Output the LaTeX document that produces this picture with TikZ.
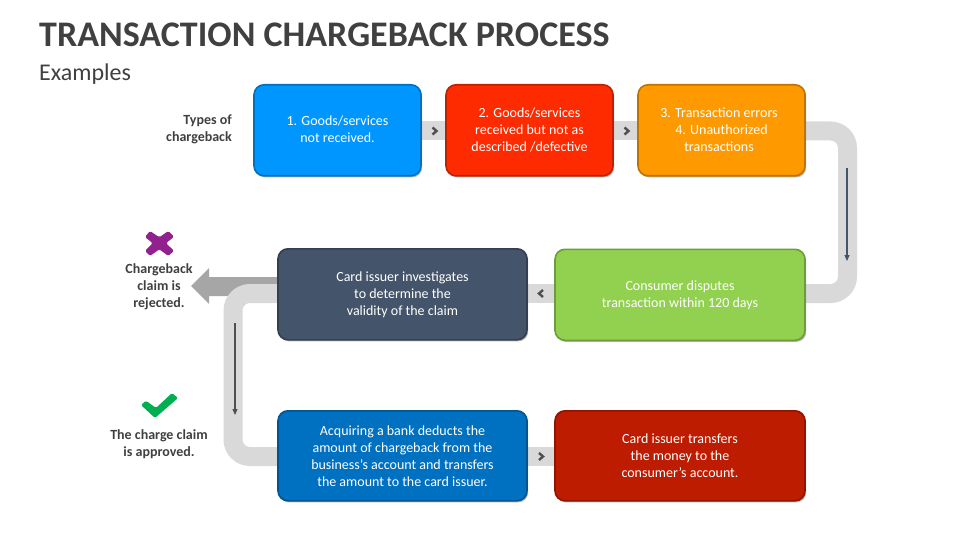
\documentclass[tikz,border=0pt]{standalone}
\usepackage{fontspec}
\setmainfont{Carlito}
\usetikzlibrary{shadows,arrows.meta}
\definecolor{txt}{HTML}{404040}
\definecolor{band}{HTML}{D9D9D9}
\tikzset{
  x=1pt,y=-1pt,
  proc/.style={draw=#1!75!black,fill=#1,line width=1.6pt,rounded corners=10pt,text=white,align=center,
    anchor=north west,inner sep=0pt,font=\fontsize{14}{17}\selectfont,
    drop shadow={shadow xshift=1.2pt,shadow yshift=-1.6pt,fill=black,opacity=.3}},
  lab/.style={text=txt,align=center,font=\fontsize{14}{17}\selectfont\bfseries,inner sep=0pt},
  bandline/.style={draw=band,line width=19pt,rounded corners=17pt},
  flow/.style={draw=#1,line width=1.2pt,-{Triangle[length=6pt,width=5pt]}},
  chev/.style={draw=#1,line width=2.4pt,line join=miter},
  icon/.style={fill=#1,rounded corners=1.5pt},
}
\definecolor{cA}{HTML}{0096FF}
\definecolor{cB}{HTML}{FF2B00}
\definecolor{cC}{HTML}{FF9900}
\definecolor{cD}{HTML}{92D050}
\definecolor{cE}{HTML}{44546A}
\definecolor{cF}{HTML}{0070C0}
\definecolor{cG}{HTML}{BD1C00}
\definecolor{gA}{HTML}{A6A6A6}
\definecolor{gC}{HTML}{4F4F4F}
\definecolor{cX}{HTML}{92208F}
\definecolor{cV}{HTML}{00B050}
\begin{document}
\begin{tikzpicture}
\useasboundingbox (0,0) rectangle (960,540);
\fill[white] (0,0) rectangle (960,540);
% coordinates
\coordinate (r1) at (847.5,131);
\coordinate (r2) at (847.5,293.5);
\coordinate (l1) at (233,293.5);
\coordinate (l2) at (233,456.5);
\coordinate (cs) at (795,131);
\coordinate (ds) at (795,293.5);
\coordinate (es) at (290,293.5);
\coordinate (fs) at (290,456.5);
\coordinate (des) at (600,293.5);
\coordinate (ees) at (500,293.5);
\coordinate (fgs) at (500,456.5);
\coordinate (gfs) at (600,456.5);
\coordinate (abs) at (400,131);
\coordinate (bas) at (480,131);
\coordinate (bcs) at (600,131);
\coordinate (cbs) at (650,131);
% grey bands
\draw[bandline] (abs) -- (bas);
\draw[bandline] (bcs) -- (cbs);
\draw[bandline] (cs) -- (r1) -- (r2) -- (ds);
\draw[bandline] (des) -- (ees);
\draw[bandline] (fgs) -- (gfs);
% rejected arrow
\fill[gA] (191,286) -- (209,268) -- (209,277) -- (290,277) -- (290,296) -- (209,296) -- (209,304) -- cycle;
\draw[bandline] (es) -- (l1) -- (l2) -- (fs);
% flow arrows
\coordinate (ra) at (847,168); \coordinate (rb) at (847,261);
\coordinate (la) at (235,323); \coordinate (lb) at (235,415);
\draw[flow=cE] (ra) -- (rb);
\draw[flow=gC] (la) -- (lb);
% boxes
\node[proc=cA,minimum width=167pt,minimum height=91pt] (a) at (253.2,84) {1. Goods/services\\not received.\vphantom{p}};
\node[proc=cB,minimum width=167pt,minimum height=91pt] (b) at (445.2,84) {2. Goods/services\\received but not as\\described /defective};
\node[proc=cC,minimum width=167pt,minimum height=91pt] (c) at (637.2,84) {3. Transaction errors\hspace*{5pt}\\4. Unauthorized\hspace*{5pt}\\transactions\hspace*{5pt}\vphantom{p}};
\node[proc=cD,minimum width=250pt,minimum height=91pt] (d) at (554.2,248.5) {Consumer disputes\\transaction within 120 days};
\node[proc=cE,minimum width=249pt,minimum height=91pt] (e) at (277.2,248) {Card issuer investigates\\to determine the\\validity of the claim};
\node[proc=cF,minimum width=249pt,minimum height=90pt] (f) at (277.2,410) {Acquiring a bank deducts the\\amount of chargeback from the\\business’s account and transfers\\the amount to the card issuer.};
\node[proc=cG,minimum width=250pt,minimum height=90pt] (g) at (554.2,410) {Card issuer transfers\\the money to the\\consumer’s account.};
% chevrons
\draw[chev=gC] (432.5,127.5) -- (436.5,131) -- (432.5,134.5);
\draw[chev=gC] (624.5,127.5) -- (628.5,131) -- (624.5,134.5);
\draw[chev=gC] (543,290) -- (539,293.5) -- (543,297);
\draw[chev=gC] (539,453) -- (543,456.5) -- (539,460);
% title
\node[anchor=west,text=txt,inner sep=0pt,font=\fontsize{36}{40}\selectfont\bfseries] (title) at (39,35) {TRANSACTION CHARGEBACK PROCESS};
\node[anchor=west,text=txt,inner sep=0pt,font=\fontsize{24}{28}\selectfont] (sub) at (39,74) {Examples};
% labels
\node[lab,align=right,anchor=east] (types) at (232,129.5) {Types of\\chargeback};
\node[lab] (rej) at (159,286.5) {Chargeback\\claim is\\rejected.};
\node[lab] (appr) at (159,444.5) {The charge claim\\is approved.};
% cross icon
\fill[icon=cX] (145,237) -- (150,231) -- (159.3,237.3) -- (168.3,231) -- (174,236.7) -- (166,243.3) -- (174,250.7) -- (168.3,256) -- (159.3,249.3) -- (150,256) -- (145,250.7) -- (152.7,243.3) -- cycle;
% check icon
\fill[icon=cV] (141,405) -- (146,400.7) -- (156,408) -- (172,393) -- (178,398) -- (155,418) -- cycle;
\end{tikzpicture}
\end{document}
